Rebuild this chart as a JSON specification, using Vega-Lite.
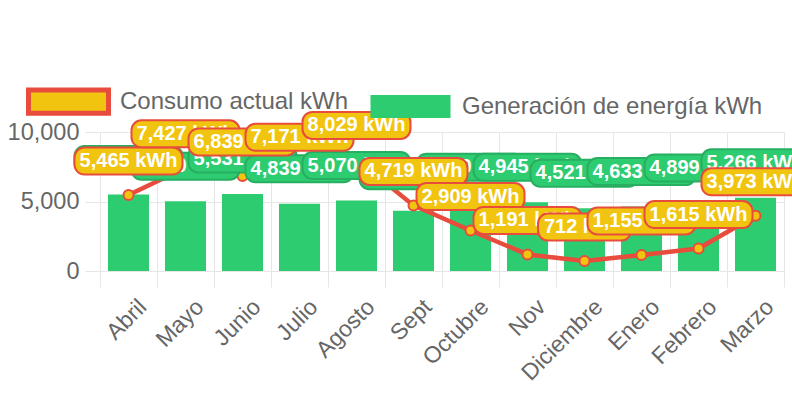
{
  "$schema": "https://vega.github.io/schema/vega-lite/v6.json",
  "autosize": "none",
  "width": 684,
  "height": 139,
  "padding": {"left": 100, "top": 132, "right": 8, "bottom": 125},
  "background": "white",
  "config": {
    "view": {"stroke": null},
    "font": "Liberation Sans",
    "locale": {"number": {"decimal": ".", "thousands": ",", "grouping": [3], "currency": ["", " kWh"]}},
    "style": {
      "gbox": {"shape": "M-0.815,-0.25L0.815,-0.25C0.917,-0.25 1,-0.167 1,-0.065L1,0.065C1,0.167 0.917,0.25 0.815,0.25L-0.815,0.25C-0.917,0.25 -1,0.167 -1,0.065L-1,-0.065C-1,-0.167 -0.917,-0.25 -0.815,-0.25Z", "size": 11664, "stroke": "#27ae60", "strokeWidth": 2, "opacity": 1},
      "ybox": {"shape": "M-0.815,-0.25L0.815,-0.25C0.917,-0.25 1,-0.167 1,-0.065L1,0.065C1,0.167 0.917,0.25 0.815,0.25L-0.815,0.25C-0.917,0.25 -1,0.167 -1,0.065L-1,-0.065C-1,-0.167 -0.917,-0.25 -0.815,-0.25Z", "size": 11664, "stroke": "#e74c3c", "strokeWidth": 2, "opacity": 1},
      "ybox2": {"shape": "M-0.676,-0.25L0.676,-0.25C0.778,-0.25 0.861,-0.167 0.861,-0.065L0.861,0.065C0.861,0.167 0.778,0.25 0.676,0.25L-0.676,0.25C-0.778,0.25 -0.861,0.167 -0.861,0.065L-0.861,-0.065C-0.861,-0.167 -0.778,-0.25 -0.676,-0.25Z", "size": 11664, "stroke": "#e74c3c", "strokeWidth": 2, "opacity": 1},
      "ltxt": {"font": "Liberation Sans", "fontWeight": "bold", "fontSize": 20, "baseline": "middle", "align": "center"}
    }
  },
  "data": {"values": [
    {"m": "Abril", "c": 5465, "g": 5510},
    {"m": "Mayo", "c": 7427, "g": 5020},
    {"m": "Junio", "c": 6839, "g": 5531},
    {"m": "Julio", "c": 7171, "g": 4839},
    {"m": "Agosto", "c": 8029, "g": 5070},
    {"m": "Sept", "c": 4719, "g": 4340},
    {"m": "Octubre", "c": 2909, "g": 4940},
    {"m": "Nov", "c": 1191, "g": 4945},
    {"m": "Diciembre", "c": 712, "g": 4521},
    {"m": "Enero", "c": 1155, "g": 4633},
    {"m": "Febrero", "c": 1615, "g": 4899},
    {"m": "Marzo", "c": 3973, "g": 5266}
  ]},
  "encoding": {
    "x": {"field": "m", "type": "nominal", "sort": null,
      "scale": {"paddingInner": 0, "paddingOuter": 0},
      "axis": {"title": null, "tickBand": "extent", "grid": true, "gridColor": "#e6e6e6", "tickColor": "#e6e6e6", "tickSize": 16, "domain": false,
        "labelAngle": -45, "labelAlign": "right", "labelBaseline": "middle", "labelFontSize": 23, "labelColor": "#666666", "labelPadding": 16, "labelOffset": 14}}
  },
  "layer": [
    {
      "mark": {"type": "bar", "width": {"band": 0.72}},
      "encoding": {
        "y": {"field": "g", "type": "quantitative", "scale": {"domain": [0, 10000], "nice": false},
          "axis": {"title": null, "values": [0, 5000, 10000], "format": ",.0f", "grid": true, "gridColor": "#e6e6e6", "tickColor": "#e6e6e6", "tickSize": 15, "domain": false, "labelFontSize": 23.5, "labelColor": "#666666", "labelPadding": 6}},
        "fill": {"datum": "Generación de energía kWh", "type": "nominal",
          "scale": {"domain": ["Consumo actual kWh", "Generación de energía kWh"], "range": ["#f1c40f", "#2ecc71"]},
          "legend": {"title": null, "orient": "none", "legendX": -43.5, "legendY": -42.5, "direction": "horizontal",
            "symbolType": "M-1,-0.29L1,-0.29L1,0.29L-1,0.29Z", "symbolSize": 6400, "symbolOpacity": 1,
            "labelFontSize": 24, "labelColor": "#666666", "labelFont": "Liberation Sans", "labelOffset": 39.5, "labelLimit": 400,
            "columnPadding": 22, "padding": 0,
            "encode": {"symbols": {"update": {
              "stroke": {"signal": "datum.value === 'Consumo actual kWh' ? '#e74c3c' : '#2ecc71'"},
              "strokeWidth": {"signal": "datum.value === 'Consumo actual kWh' ? 5 : 0"},
              "opacity": {"value": 1}}}}}}
      }
    },
    {
      "mark": {"type": "line", "color": "#e74c3c", "strokeWidth": 4.5},
      "encoding": {"y": {"field": "c", "type": "quantitative"}}
    },
    {
      "mark": {"type": "point", "filled": true, "size": 100, "stroke": "#e74c3c", "strokeWidth": 2, "opacity": 1},
      "encoding": {"y": {"field": "c", "type": "quantitative"}, "fill": {"datum": "Consumo actual kWh", "type": "nominal"}}
    },
    {
      "encoding": {"y": {"field": "g", "type": "quantitative"}, "text": {"field": "g", "type": "quantitative", "format": "$,"}},
      "layer": [
        {"transform": [{"filter": {"field": "m", "equal": "Abril"}}], "layer": [{"mark": {"type": "point", "filled": true, "style": "gbox", "color": "#2ecc71", "yOffset": -35}}, {"mark": {"type": "text", "style": "ltxt", "color": "#ffffff", "yOffset": -35}}]},
        {"transform": [{"filter": {"field": "m", "equal": "Mayo"}}], "layer": [{"mark": {"type": "point", "filled": true, "style": "gbox", "color": "#2ecc71", "yOffset": -35}}, {"mark": {"type": "text", "style": "ltxt", "color": "#ffffff", "yOffset": -35}}]},
        {"transform": [{"filter": {"field": "m", "equal": "Junio"}}], "layer": [{"mark": {"type": "point", "filled": true, "style": "gbox", "color": "#2ecc71", "yOffset": -35}}, {"mark": {"type": "text", "style": "ltxt", "color": "#ffffff", "yOffset": -35}}]},
        {"transform": [{"filter": {"field": "m", "equal": "Julio"}}], "layer": [{"mark": {"type": "point", "filled": true, "style": "gbox", "color": "#2ecc71", "yOffset": -35}}, {"mark": {"type": "text", "style": "ltxt", "color": "#ffffff", "yOffset": -35}}]},
        {"transform": [{"filter": {"field": "m", "equal": "Agosto"}}], "layer": [{"mark": {"type": "point", "filled": true, "style": "gbox", "color": "#2ecc71", "yOffset": -35}}, {"mark": {"type": "text", "style": "ltxt", "color": "#ffffff", "yOffset": -35}}]},
        {"transform": [{"filter": {"field": "m", "equal": "Sept"}}], "layer": [{"mark": {"type": "point", "filled": true, "style": "gbox", "color": "#2ecc71", "yOffset": -35}}, {"mark": {"type": "text", "style": "ltxt", "color": "#ffffff", "yOffset": -35}}]},
        {"transform": [{"filter": {"field": "m", "equal": "Octubre"}}], "layer": [{"mark": {"type": "point", "filled": true, "style": "gbox", "color": "#2ecc71", "yOffset": -35}}, {"mark": {"type": "text", "style": "ltxt", "color": "#ffffff", "yOffset": -35}}]},
        {"transform": [{"filter": {"field": "m", "equal": "Nov"}}], "layer": [{"mark": {"type": "point", "filled": true, "style": "gbox", "color": "#2ecc71", "yOffset": -35}}, {"mark": {"type": "text", "style": "ltxt", "color": "#ffffff", "yOffset": -35}}]},
        {"transform": [{"filter": {"field": "m", "equal": "Diciembre"}}], "layer": [{"mark": {"type": "point", "filled": true, "style": "gbox", "color": "#2ecc71", "yOffset": -35}}, {"mark": {"type": "text", "style": "ltxt", "color": "#ffffff", "yOffset": -35}}]},
        {"transform": [{"filter": {"field": "m", "equal": "Enero"}}], "layer": [{"mark": {"type": "point", "filled": true, "style": "gbox", "color": "#2ecc71", "yOffset": -35}}, {"mark": {"type": "text", "style": "ltxt", "color": "#ffffff", "yOffset": -35}}]},
        {"transform": [{"filter": {"field": "m", "equal": "Febrero"}}], "layer": [{"mark": {"type": "point", "filled": true, "style": "gbox", "color": "#2ecc71", "yOffset": -35}}, {"mark": {"type": "text", "style": "ltxt", "color": "#ffffff", "yOffset": -35}}]},
        {"transform": [{"filter": {"field": "m", "equal": "Marzo"}}], "layer": [{"mark": {"type": "point", "filled": true, "style": "gbox", "color": "#2ecc71", "yOffset": -35}}, {"mark": {"type": "text", "style": "ltxt", "color": "#ffffff", "yOffset": -35}}]}
      ]
    },
    {
      "encoding": {"y": {"field": "c", "type": "quantitative"}, "text": {"field": "c", "type": "quantitative", "format": "$,"}},
      "layer": [
        {"transform": [{"filter": {"field": "m", "equal": "Abril"}}], "layer": [{"mark": {"type": "point", "filled": true, "style": "ybox", "color": "#f1c40f", "yOffset": -34}}, {"mark": {"type": "text", "style": "ltxt", "color": "#ffffff", "yOffset": -34}}]},
        {"transform": [{"filter": {"field": "m", "equal": "Mayo"}}], "layer": [{"mark": {"type": "point", "filled": true, "style": "ybox", "color": "#f1c40f", "yOffset": -34}}, {"mark": {"type": "text", "style": "ltxt", "color": "#ffffff", "yOffset": -34}}]},
        {"transform": [{"filter": {"field": "m", "equal": "Junio"}}], "layer": [{"mark": {"type": "point", "filled": true, "style": "ybox", "color": "#f1c40f", "yOffset": -34}}, {"mark": {"type": "text", "style": "ltxt", "color": "#ffffff", "yOffset": -34}}]},
        {"transform": [{"filter": {"field": "m", "equal": "Julio"}}], "layer": [{"mark": {"type": "point", "filled": true, "style": "ybox", "color": "#f1c40f", "yOffset": -34}}, {"mark": {"type": "text", "style": "ltxt", "color": "#ffffff", "yOffset": -34}}]},
        {"transform": [{"filter": {"field": "m", "equal": "Agosto"}}], "layer": [{"mark": {"type": "point", "filled": true, "style": "ybox", "color": "#f1c40f", "yOffset": -34}}, {"mark": {"type": "text", "style": "ltxt", "color": "#ffffff", "yOffset": -34}}]},
        {"transform": [{"filter": {"field": "m", "equal": "Sept"}}], "layer": [{"mark": {"type": "point", "filled": true, "style": "ybox", "color": "#f1c40f", "yOffset": -34}}, {"mark": {"type": "text", "style": "ltxt", "color": "#ffffff", "yOffset": -34}}]},
        {"transform": [{"filter": {"field": "m", "equal": "Octubre"}}], "layer": [{"mark": {"type": "point", "filled": true, "style": "ybox", "color": "#f1c40f", "yOffset": -34}}, {"mark": {"type": "text", "style": "ltxt", "color": "#ffffff", "yOffset": -34}}]},
        {"transform": [{"filter": {"field": "m", "equal": "Nov"}}], "layer": [{"mark": {"type": "point", "filled": true, "style": "ybox", "color": "#f1c40f", "yOffset": -34}}, {"mark": {"type": "text", "style": "ltxt", "color": "#ffffff", "yOffset": -34}}]},
        {"transform": [{"filter": {"field": "m", "equal": "Diciembre"}}], "layer": [{"mark": {"type": "point", "filled": true, "style": "ybox2", "color": "#f1c40f", "yOffset": -34}}, {"mark": {"type": "text", "style": "ltxt", "color": "#ffffff", "yOffset": -34}}]},
        {"transform": [{"filter": {"field": "m", "equal": "Enero"}}], "layer": [{"mark": {"type": "point", "filled": true, "style": "ybox", "color": "#f1c40f", "yOffset": -34}}, {"mark": {"type": "text", "style": "ltxt", "color": "#ffffff", "yOffset": -34}}]},
        {"transform": [{"filter": {"field": "m", "equal": "Febrero"}}], "layer": [{"mark": {"type": "point", "filled": true, "style": "ybox", "color": "#f1c40f", "yOffset": -34}}, {"mark": {"type": "text", "style": "ltxt", "color": "#ffffff", "yOffset": -34}}]},
        {"transform": [{"filter": {"field": "m", "equal": "Marzo"}}], "layer": [{"mark": {"type": "point", "filled": true, "style": "ybox", "color": "#f1c40f", "yOffset": -34}}, {"mark": {"type": "text", "style": "ltxt", "color": "#ffffff", "yOffset": -34}}]}
      ]
    }
  ]
}
